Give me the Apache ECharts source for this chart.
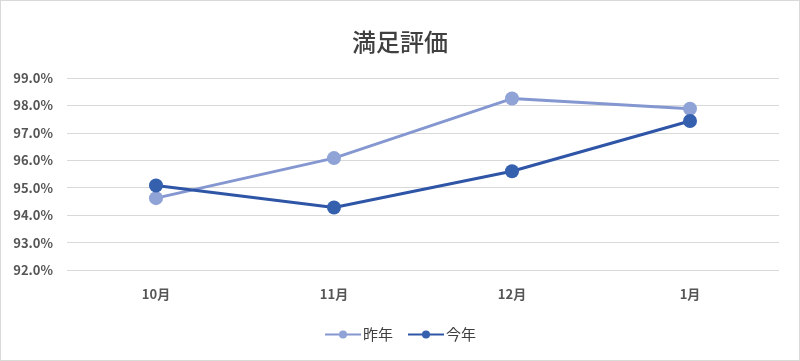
<!DOCTYPE html>
<html><head><meta charset="utf-8">
<script src="https://cdn.jsdelivr.net/npm/echarts@6/dist/echarts.min.js"></script>
<style>html,body{margin:0;padding:0;background:#fff}#c{width:800px;height:361px;box-sizing:border-box;border:1px solid #d9d9d9}</style>
</head><body><div id="c"></div>
<script>
const categories = ['10月','11月','12月','1月'];
const lastYear = [94.62, 96.08, 98.25, 97.88];
const thisYear = [95.08, 94.28, 95.6, 97.43];
const seriesNames = ['昨年','今年'];
const titleText = '満足評価';
const font = '"Noto Sans CJK JP", "Noto Sans", sans-serif';
const chart = echarts.init(document.getElementById('c'));
chart.setOption({
  animation:false,
  title:{text:titleText,left:'center',top:24,textStyle:{fontFamily:font,fontSize:24,fontWeight:500,color:'#404040'}},
  legend:{bottom:13,left:'center',itemWidth:36,itemHeight:10,itemGap:14,textStyle:{fontFamily:font,fontSize:15,color:'#404040',padding:[0,0,0,-3]},data:seriesNames},
  grid:{left:66,right:20,top:77,bottom:90},
  xAxis:{type:'category',data:categories,boundaryGap:true,
    axisLine:{show:false},axisTick:{show:false},
    axisLabel:{fontFamily:font,fontSize:13,fontWeight:'bold',color:'#555555',margin:18}},
  yAxis:{type:'value',min:92,max:99,interval:1,
    axisLine:{show:false},axisTick:{show:false},
    splitLine:{lineStyle:{color:'#d9d9d9',width:1}},
    axisLabel:{fontFamily:font,fontSize:13,fontWeight:'bold',color:'#555555',margin:14,formatter:v=>v.toFixed(1)+'%'}},
  series:[
    {name:seriesNames[0],type:'line',data:lastYear,symbol:'circle',symbolSize:14,
      lineStyle:{color:'#8497d0',width:3},itemStyle:{color:'#8fa3d6'}},
    {name:seriesNames[1],type:'line',data:thisYear,symbol:'circle',symbolSize:14,
      lineStyle:{color:'#2f56a6',width:3},itemStyle:{color:'#3560ae'}}
  ]
});
</script></body></html>
